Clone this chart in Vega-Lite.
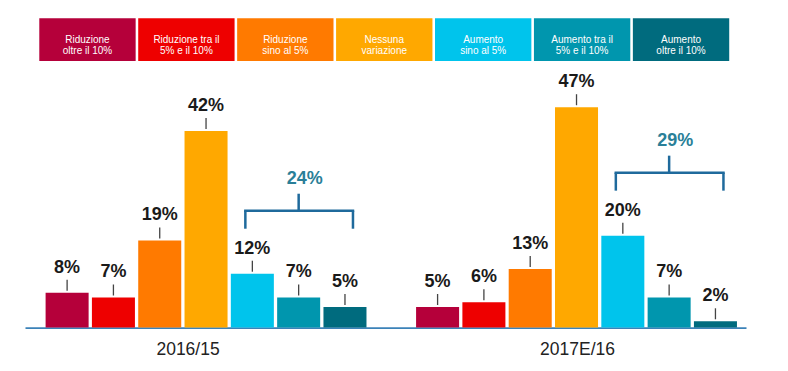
{
  "$schema": "https://vega.github.io/schema/vega-lite/v6.json",
  "autosize": {"type": "pad"},
  "padding": {"left": 25, "top": 18.3, "right": 10, "bottom": 5},
  "spacing": 9,
  "bounds": "flush",
  "config": {
    "view": {"stroke": null},
    "font": "Liberation Sans",
    "axisX": {"labels": false, "ticks": false, "grid": false, "title": null, "domain": true, "domainColor": "#3b82b8", "domainWidth": 1.6}
  },
  "datasets": {
    "legend": [
      {"cat": "Riduzione oltre il 10%", "label": "Riduzione\noltre il 10%"},
      {"cat": "Riduzione tra il 5% e il 10%", "label": "Riduzione tra il\n5% e il 10%"},
      {"cat": "Riduzione sino al 5%", "label": "Riduzione\nsino al 5%"},
      {"cat": "Nessuna variazione", "label": "Nessuna\nvariazione"},
      {"cat": "Aumento sino al 5%", "label": "Aumento\nsino al 5%"},
      {"cat": "Aumento tra il 5% e il 10%", "label": "Aumento tra il\n5% e il 10%"},
      {"cat": "Aumento oltre il 10%", "label": "Aumento\noltre il 10%"}
    ],
    "bars": [
      {"year": "2016/15", "cat": "Riduzione oltre il 10%", "pos": 0, "value": 8},
      {"year": "2016/15", "cat": "Riduzione tra il 5% e il 10%", "pos": 1, "value": 7},
      {"year": "2016/15", "cat": "Riduzione sino al 5%", "pos": 2, "value": 19},
      {"year": "2016/15", "cat": "Nessuna variazione", "pos": 3, "value": 42},
      {"year": "2016/15", "cat": "Aumento sino al 5%", "pos": 4, "value": 12},
      {"year": "2016/15", "cat": "Aumento tra il 5% e il 10%", "pos": 5, "value": 7},
      {"year": "2016/15", "cat": "Aumento oltre il 10%", "pos": 6, "value": 5},
      {"year": "2017E/16", "cat": "Riduzione oltre il 10%", "pos": 8, "value": 5},
      {"year": "2017E/16", "cat": "Riduzione tra il 5% e il 10%", "pos": 9, "value": 6},
      {"year": "2017E/16", "cat": "Riduzione sino al 5%", "pos": 10, "value": 13},
      {"year": "2017E/16", "cat": "Nessuna variazione", "pos": 11, "value": 47},
      {"year": "2017E/16", "cat": "Aumento sino al 5%", "pos": 12, "value": 20},
      {"year": "2017E/16", "cat": "Aumento tra il 5% e il 10%", "pos": 13, "value": 7},
      {"year": "2017E/16", "cat": "Aumento oltre il 10%", "pos": 14, "value": 2}
    ],
    "brackets": [
      {"year": "2016/15", "from": 4, "mid": 5, "to": 6, "base": 12, "total": 24},
      {"year": "2017E/16", "from": 12, "mid": 13, "to": 14, "base": 20, "total": 29}
    ]
  },
  "vconcat": [
    {
      "width": 721,
      "height": 42.7,
      "data": {"name": "legend"},
      "layer": [
        {
          "mark": {"type": "rect"},
          "encoding": {
            "x": {"field": "cat", "type": "nominal", "sort": null, "axis": null,
              "scale": {"domain": ["Riduzione oltre il 10%", "Riduzione tra il 5% e il 10%", "Riduzione sino al 5%", "Nessuna variazione", "Aumento sino al 5%", "Aumento tra il 5% e il 10%", "Aumento oltre il 10%"], "paddingInner": 0.026, "paddingOuter": 0.157, "align": 0.46}},
            "color": {"field": "cat", "type": "nominal", "legend": null,
              "scale": {"domain": ["Riduzione oltre il 10%", "Riduzione tra il 5% e il 10%", "Riduzione sino al 5%", "Nessuna variazione", "Aumento sino al 5%", "Aumento tra il 5% e il 10%", "Aumento oltre il 10%"],
                "range": ["#b5003a", "#ee0000", "#ff7a00", "#ffa800", "#00c4ec", "#0096ae", "#006b7e"]}}
          }
        },
        {
          "mark": {"type": "text", "lineBreak": "\n", "color": "#ffffff", "fontSize": 10, "lineHeight": 11.7, "baseline": "middle", "align": "center"},
          "encoding": {
            "x": {"field": "cat", "type": "nominal", "sort": null, "axis": null},
            "text": {"field": "label"}
          }
        }
      ]
    },
    {
      "width": 721,
      "height": 257.3,
      "layer": [
        {
          "data": {"name": "bars"},
          "mark": {"type": "bar", "clip": true},
          "encoding": {
            "x": {"field": "pos", "type": "ordinal", "title": null,
              "scale": {"domain": [0, 1, 2, 3, 4, 5, 6, 7, 8, 9, 10, 11, 12, 13, 14], "paddingInner": 0.071, "paddingOuter": 0.32, "align": 0.695}},
            "y": {"field": "value", "type": "quantitative", "axis": null,
              "scale": {"domain": [0.673, 54.76], "zero": false, "nice": false}},
            "color": {"field": "cat", "type": "nominal", "legend": null,
              "scale": {"domain": ["Riduzione oltre il 10%", "Riduzione tra il 5% e il 10%", "Riduzione sino al 5%", "Nessuna variazione", "Aumento sino al 5%", "Aumento tra il 5% e il 10%", "Aumento oltre il 10%"],
                "range": ["#b5003a", "#ee0000", "#ff7a00", "#ffa800", "#00c4ec", "#0096ae", "#006b7e"]}}
          }
        },
        {
          "data": {"name": "bars"},
          "mark": {"type": "rule", "color": "#444444", "strokeWidth": 1.3, "yOffset": -2, "y2Offset": -13},
          "encoding": {
            "x": {"field": "pos", "type": "ordinal", "title": null},
            "y": {"field": "value", "type": "quantitative", "axis": null},
            "y2": {"field": "value"}
          }
        },
        {
          "data": {"name": "bars"},
          "transform": [{"calculate": "datum.value + '%'", "as": "label"}],
          "mark": {"type": "text", "fontSize": 18, "fontWeight": "bold", "color": "#1a1a1a", "baseline": "alphabetic", "align": "center", "dy": -20},
          "encoding": {
            "x": {"field": "pos", "type": "ordinal", "title": null},
            "y": {"field": "value", "type": "quantitative", "axis": null},
            "text": {"field": "label"}
          }
        },
        {
          "data": {"name": "brackets"},
          "mark": {"type": "rule", "color": "#1f6a9c", "strokeWidth": 2.5, "strokeCap": "square", "xOffset": -7, "x2Offset": 8, "yOffset": -63},
          "encoding": {
            "x": {"field": "from", "type": "ordinal", "title": null},
            "x2": {"field": "to"},
            "y": {"field": "base", "type": "quantitative", "axis": null}
          }
        },
        {
          "data": {"name": "brackets"},
          "mark": {"type": "rule", "color": "#1f6a9c", "strokeWidth": 2.5, "xOffset": -7, "yOffset": -63, "y2Offset": -45},
          "encoding": {
            "x": {"field": "from", "type": "ordinal", "title": null},
            "y": {"field": "base", "type": "quantitative", "axis": null},
            "y2": {"field": "base"}
          }
        },
        {
          "data": {"name": "brackets"},
          "mark": {"type": "rule", "color": "#1f6a9c", "strokeWidth": 2.5, "xOffset": 8, "yOffset": -63, "y2Offset": -45},
          "encoding": {
            "x": {"field": "to", "type": "ordinal", "title": null},
            "y": {"field": "base", "type": "quantitative", "axis": null},
            "y2": {"field": "base"}
          }
        },
        {
          "data": {"name": "brackets"},
          "mark": {"type": "rule", "color": "#1f6a9c", "strokeWidth": 2.5, "yOffset": -63, "y2Offset": -80},
          "encoding": {
            "x": {"field": "mid", "type": "ordinal", "title": null},
            "y": {"field": "base", "type": "quantitative", "axis": null},
            "y2": {"field": "base"}
          }
        },
        {
          "data": {"name": "brackets"},
          "transform": [{"calculate": "datum.total + '%'", "as": "label"}],
          "mark": {"type": "text", "fontSize": 18, "fontWeight": "bold", "color": "#2a7f98", "baseline": "alphabetic", "align": "center", "dy": -90, "dx": 6},
          "encoding": {
            "x": {"field": "mid", "type": "ordinal", "title": null},
            "y": {"field": "base", "type": "quantitative", "axis": null},
            "text": {"field": "label"}
          }
        },
        {
          "data": {"values": [{"year": "2016/15", "pos": 3}]},
          "mark": {"type": "text", "fontSize": 17.5, "color": "#222222", "baseline": "middle", "align": "center", "dy": 22, "dx": -18},
          "encoding": {
            "x": {"field": "pos", "type": "ordinal", "title": null},
            "y": {"value": "height"},
            "text": {"field": "year"}
          }
        },
        {
          "data": {"values": [{"year": "2017E/16", "pos": 11}]},
          "mark": {"type": "text", "fontSize": 17.5, "color": "#222222", "baseline": "middle", "align": "center", "dy": 22, "dx": 1},
          "encoding": {
            "x": {"field": "pos", "type": "ordinal", "title": null},
            "y": {"value": "height"},
            "text": {"field": "year"}
          }
        }
      ]
    }
  ]
}
